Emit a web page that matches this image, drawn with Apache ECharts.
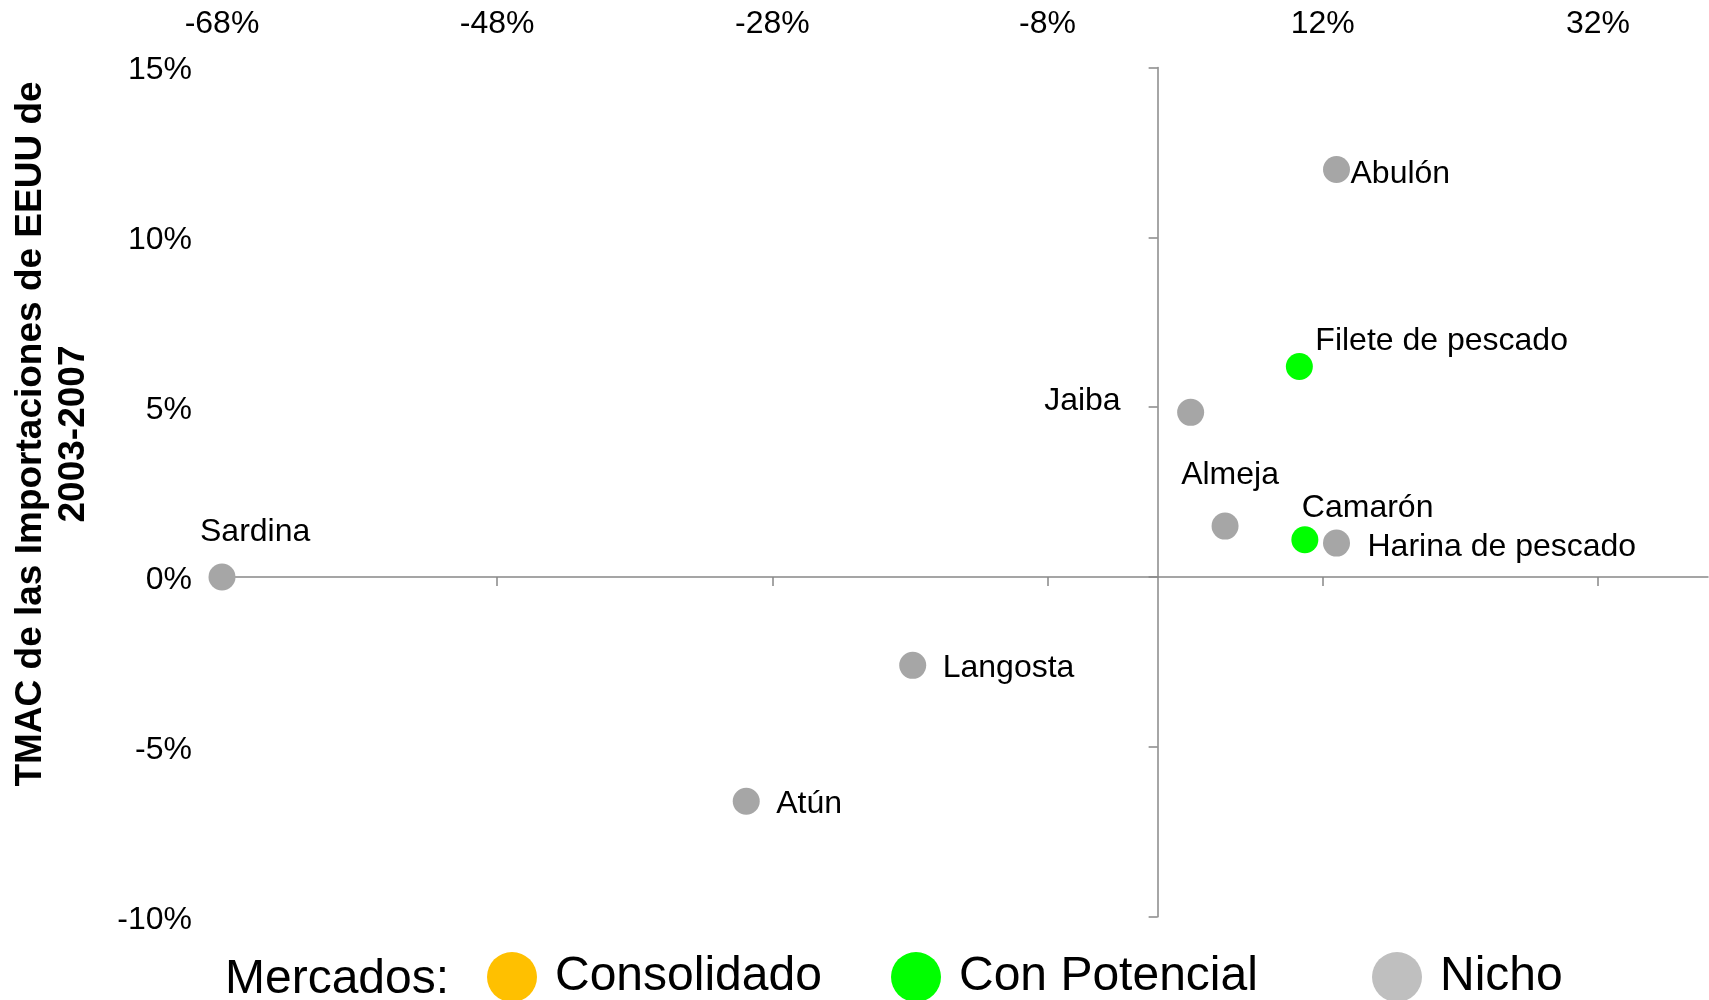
<!DOCTYPE html>
<html>
<head>
<meta charset="utf-8">
<title>Mercados</title>
<script src="https://cdn.jsdelivr.net/npm/echarts@6/dist/echarts.min.js"></script>
<style>
html, body { margin: 0; padding: 0; background: #fff; }
#chart { width: 1709px; height: 1000px; }
</style>
</head>
<body>
<div id="chart"></div>
<script>
// datos: TMAC (%) por producto
var productos = ['Sardina', 'Atún', 'Langosta', 'Jaiba', 'Almeja', 'Filete de pescado', 'Camarón', 'Harina de pescado', 'Abulón'];
var tmacX = [-68, -29.9, -17.8, 2.4, 4.9, 10.3, 10.7, 13.0, 13.0];
var tmacY = [0, -6.6, -2.6, 4.85, 1.5, 6.2, 1.1, 1.0, 12.0];
var mercado = ['Nicho', 'Nicho', 'Nicho', 'Nicho', 'Nicho', 'Con Potencial', 'Con Potencial', 'Nicho', 'Nicho'];
var mercados = ['Consolidado', 'Con Potencial', 'Nicho'];
var xTicks = [-68, -48, -28, -8, 12, 32];
var yTicks = [-10, -5, 0, 5, 10, 15];

var FONT = '"Liberation Sans", Arial, sans-serif';
var colores = { 'Consolidado': '#FFC000', 'Con Potencial': '#00FF00', 'Nicho': '#A6A6A6' };
var AXIS = '#888888';
var R = 13.5; // radio del punto

// donde va cada etiqueta respecto al punto: dx, dy, align
var etiquetas = {
	'Sardina': [-22, -46, 'left'],
	'Atún': [30, 1, 'left'],
	'Langosta': [30, 1, 'left'],
	'Jaiba': [-70, -13, 'right'],
	'Almeja': [5, -52, 'center'],
	'Filete de pescado': [16, -27, 'left'],
	'Camarón': [-3, -33, 'left'],
	'Harina de pescado': [31, 3, 'left'],
	'Abulón': [14, 3, 'left'],
};

var series = mercados.map(function (m) {
	var data = [];
	productos.forEach(function (p, i) {
		if (mercado[i] !== m) return;
		var e = etiquetas[p];
		data.push({
			name: p,
			value: [tmacX[i], tmacY[i]],
			label: { position: [R + e[0], R + e[1] + 1.5], align: e[2], verticalAlign: 'middle' },
		});
	});
	return {
		name: m,
		type: 'scatter',
		symbol: 'circle',
		symbolSize: R * 2,
		clip: false,
		itemStyle: { color: colores[m], opacity: 1 },
		label: { show: true, formatter: '{b}', fontSize: 32, color: '#000', fontFamily: FONT },
		emphasis: { disabled: true },
		data: data,
	};
});

function leyenda(item, left) {
	return {
		data: [item],
		left: left,
		top: 952,
		padding: 0,
		icon: 'circle',
		itemWidth: 76,
		itemHeight: 50,
		selectedMode: false,
		textStyle: { fontSize: 48, color: '#000', fontFamily: FONT },
	};
}

var myChart = echarts.init(document.getElementById('chart'));

var option = {
	animation: false,
	backgroundColor: '#fff',
	grid: { left: 222, right: 1, top: 67.6, bottom: 83.3, outerBoundsMode: 'none' },
	xAxis: [
		{
			// linea sobre el cero
			type: 'value',
			min: xTicks[0],
			max: 40,
			position: 'bottom',
			axisLine: { show: true, onZero: true, lineStyle: { color: AXIS, width: 1.5 } },
			axisTick: { show: true, length: 9, customValues: xTicks, lineStyle: { color: AXIS, width: 1.5 } },
			axisLabel: { show: false },
			splitLine: { show: false },
		},
		{
			// etiquetas arriba
			type: 'value',
			min: xTicks[0],
			max: 40,
			position: 'top',
			axisLine: { show: false, onZero: false },
			axisTick: { show: false },
			axisLabel: {
				show: true,
				customValues: xTicks,
				margin: 27,
				fontSize: 32,
				color: '#000',
				fontFamily: FONT,
				formatter: function (v) { return v + '%'; },
			},
			splitLine: { show: false },
		},
	],
	yAxis: [
		{
			type: 'value',
			min: yTicks[0],
			max: yTicks[yTicks.length - 1],
			interval: 5,
			position: 'left',
			axisLine: { show: true, onZero: true, lineStyle: { color: AXIS, width: 1.5 } },
			axisTick: { show: true, length: 9, lineStyle: { color: AXIS, width: 1.5 } },
			axisLabel: { show: false },
			splitLine: { show: false },
		},
		{
			type: 'value',
			min: yTicks[0],
			max: yTicks[yTicks.length - 1],
			interval: 5,
			position: 'left',
			axisLine: { show: false, onZero: false },
			axisTick: { show: false },
			axisLabel: {
				show: true,
				margin: 30,
				verticalAlign: 'top',
				lineHeight: 6,
				fontSize: 32,
				color: '#000',
				fontFamily: FONT,
				formatter: function (v) { return v + '%'; },
			},
			splitLine: { show: false },
		},
	],
	legend: [
		leyenda('Consolidado', 487),
		leyenda('Con Potencial', 891),
		leyenda({ name: 'Nicho', itemStyle: { color: '#BFBFBF' } }, 1372),
	],
	graphic: [
		{
			type: 'text',
			x: 52,
			y: 434,
			rotation: Math.PI / 2,
			style: {
				text: 'TMAC de las Importaciones de EEUU de\n2003-2007',
				fontSize: 37,
				fontWeight: 'bold',
				fontFamily: FONT,
				lineHeight: 43,
				fill: '#000',
				align: 'center',
				verticalAlign: 'middle',
			},
		},
		{
			type: 'text',
			x: 225,
			y: 980,
			style: {
				text: 'Mercados:',
				fontSize: 48,
				fontFamily: FONT,
				fill: '#000',
				align: 'left',
				verticalAlign: 'middle',
			},
		},
	],
	series: series,
};

myChart.setOption(option);
</script>
</body>
</html>
